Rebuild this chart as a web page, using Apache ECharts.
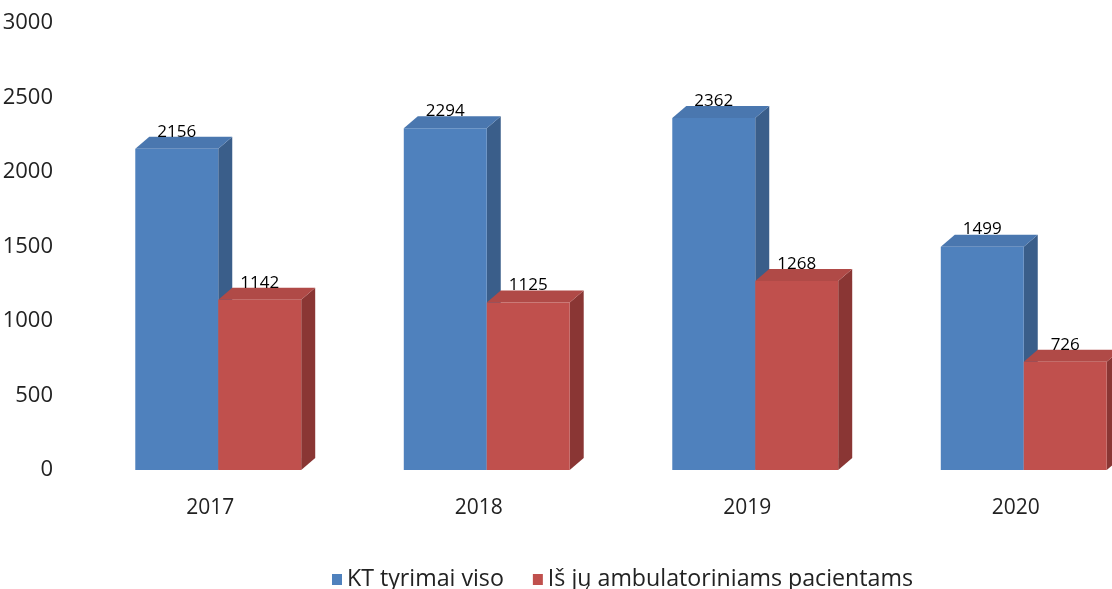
<!DOCTYPE html>
<html>
<head>
<meta charset="utf-8">
<script src="https://cdn.jsdelivr.net/npm/echarts@6/dist/echarts.min.js"></script>
<style>
html,body{margin:0;padding:0;background:#fff;}
#chart{width:1112px;height:589px;}
</style>
</head>
<body>
<div id="chart"></div>
<script>
const categories = ['2017', '2018', '2019', '2020'];
const totalExams = [2156, 2294, 2362, 1499];
const outpatient = [1142, 1125, 1268, 726];
const seriesNames = ['KT tyrimai viso', 'Iš jų ambulatoriniams pacientams'];
const yMin = 0, yMax = 3000, yInterval = 500;

const palettes = [
  { front: '#4F81BD', top: '#4A77AF', side: '#3A5E8A' },
  { front: '#C0504D', top: '#B04A47', side: '#8A3634' }
];
const DEPTH_X = 14, DEPTH_Y = 12;

function makeRender(seriesIdx) {
  const pal = palettes[seriesIdx];
  return function (params, api) {
    const cat = api.value(0);
    const val = api.value(1);
    const base = api.coord([cat, 0]);
    const top = api.coord([cat, val]);
    const band = api.size([1, 0])[0];
    const w = band * 0.309;
    const x0 = seriesIdx === 0 ? base[0] - w : base[0];
    const x1 = x0 + w;
    const yb = base[1], yt = top[1];
    const children = [
      { type: 'polygon', shape: { points: [[x1, yt], [x1 + DEPTH_X, yt - DEPTH_Y], [x1 + DEPTH_X, yb - DEPTH_Y], [x1, yb]] }, style: { fill: pal.side } },
      { type: 'polygon', shape: { points: [[x0, yt], [x0 + DEPTH_X, yt - DEPTH_Y], [x1 + DEPTH_X, yt - DEPTH_Y], [x1, yt]] }, style: { fill: pal.top } },
      { type: 'rect', shape: { x: x0, y: yt, width: w, height: yb - yt }, style: { fill: pal.front } },
      { type: 'text', x: (x0 + x1) / 2, y: yt - 17, style: { text: String(val), fill: '#000', font: '17px "Open Sans", sans-serif', align: 'center', verticalAlign: 'middle' } }
    ];
    return { type: 'group', children: children };
  };
}

const chart = echarts.init(document.getElementById('chart'), null, { renderer: 'canvas' });
chart.setOption({
  animation: false,
  backgroundColor: '#fff',
  textStyle: { fontFamily: '"Open Sans", sans-serif' },
  grid: { left: 84, top: 23, width: 1074, height: 447, outerBoundsMode: 'none', containLabel: false },
  legend: {
    left: 327, top: 563,
    icon: 'rect', itemWidth: 10, itemHeight: 11, itemGap: 29,
    textStyle: { fontSize: 23.2, color: '#222', fontFamily: '"Open Sans", sans-serif' },
    data: seriesNames
  },
  xAxis: {
    type: 'category', data: categories, boundaryGap: true,
    axisLine: { show: false }, axisTick: { show: false },
    axisLabel: { fontSize: 21, color: '#222', margin: 28, padding: [0, 16, 0, 0] }
  },
  yAxis: {
    type: 'value', min: yMin, max: yMax, interval: yInterval,
    splitLine: { show: false }, axisLine: { show: false }, axisTick: { show: false },
    axisLabel: { fontSize: 22, color: '#222', margin: 31, formatter: v => String(v) }
  },
  series: [
    { name: seriesNames[0], type: 'custom', itemStyle: { color: palettes[0].front }, renderItem: makeRender(0), encode: { x: 0, y: 1 }, data: categories.map((c, i) => [i, totalExams[i]]) },
    { name: seriesNames[1], type: 'custom', itemStyle: { color: palettes[1].front }, renderItem: makeRender(1), encode: { x: 0, y: 1 }, data: categories.map((c, i) => [i, outpatient[i]]) }
  ]
});
</script>
</body>
</html>
